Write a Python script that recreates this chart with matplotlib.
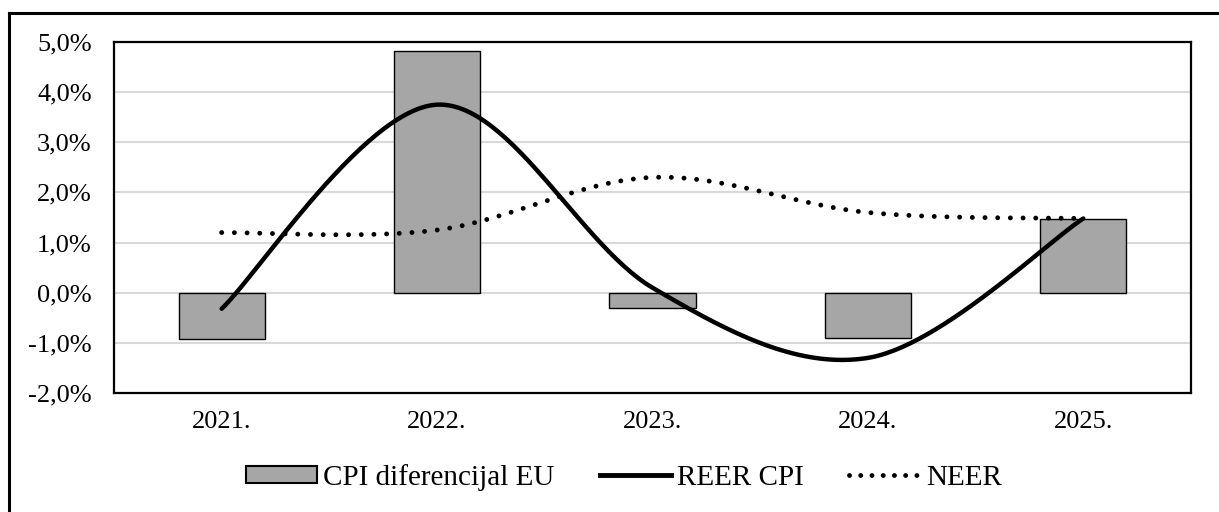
import numpy as np
import matplotlib.pyplot as plt
from matplotlib.lines import Line2D
from matplotlib.ticker import FuncFormatter

plt.rcParams['font.family'] = ['Liberation Serif', 'DejaVu Serif']

# Podaci
godine = ['2021.', '2022.', '2023.', '2024.', '2025.']
cpi_diferencijal = [-0.92, 4.83, -0.30, -0.90, 1.48]
reer_cpi = [-0.32, 3.75, 0.10, -1.30, 1.48]
neer = [1.20, 1.25, 2.30, 1.60, 1.48]


def glatka_linija(y, n=60):
    # Bezierova krivulja kroz tocke (kao "smoothed line" u Excelu)
    y = np.asarray(y, dtype=float)
    x = np.arange(len(y), dtype=float)
    px = np.concatenate([[x[0]], x, [x[-1]]])
    py = np.concatenate([[y[0]], y, [y[-1]]])
    xs, ys = [], []
    t = np.linspace(0, 1, n)
    for i in range(len(y) - 1):
        p0 = np.array([px[i + 1], py[i + 1]])
        p3 = np.array([px[i + 2], py[i + 2]])
        p1 = p0 + (np.array([px[i + 2], py[i + 2]]) - np.array([px[i], py[i]])) / 6
        p2 = p3 - (np.array([px[i + 3], py[i + 3]]) - np.array([px[i + 1], py[i + 1]])) / 6
        b = (np.outer((1 - t) ** 3, p0) + np.outer(3 * (1 - t) ** 2 * t, p1)
             + np.outer(3 * (1 - t) * t ** 2, p2) + np.outer(t ** 3, p3))
        xs.extend(b[:, 0])
        ys.extend(b[:, 1])
    return np.array(xs), np.array(ys)


fig = plt.figure(figsize=(12.19, 5.12), dpi=100)
ax = fig.add_axes([0.0935, 0.2324, 0.8835, 0.6856])

x = np.arange(len(godine))
ax.bar(x, cpi_diferencijal, width=0.40, color='#a6a6a6', edgecolor='black',
       linewidth=1.0, zorder=2)

rx, ry = glatka_linija(reer_cpi)
ax.plot(rx, ry, color='black', linewidth=3.2, solid_capstyle='round', zorder=3)

nx, ny = glatka_linija(neer)
ax.plot(nx, ny, color='black', linewidth=3.5, linestyle=(0, (0.01, 2.6)),
        dash_capstyle='round', zorder=3)

ax.set_xlim(-0.5, len(godine) - 0.5)
ax.set_ylim(-2, 5)
ax.set_xticks(x)
ax.set_xticklabels(godine)
ax.set_yticks(np.arange(-2, 5.1, 1))
ax.yaxis.set_major_formatter(FuncFormatter(lambda v, p: f'{v:.1f}%'.replace('.', ',')))
ax.tick_params(axis='both', length=0, labelsize=19)
ax.tick_params(axis='y', pad=16)
ax.tick_params(axis='x', pad=13)
ax.grid(axis='y', color='#d9d9d9', linewidth=1.5, zorder=0)
ax.set_axisbelow(True)
for s in ax.spines.values():
    s.set_linewidth(1.6)

ruke = [
    plt.Rectangle((0, 0), 1, 1, facecolor='#a6a6a6', edgecolor='black', linewidth=1.5),
    Line2D([], [], color='black', linewidth=3.5),
    Line2D([], [], color='black', linewidth=3.5, linestyle=(0, (0.01, 2.3)), dash_capstyle='round'),
]
fig.legend(ruke, ['CPI diferencijal EU', 'REER CPI', 'NEER'], loc='center',
           bbox_to_anchor=(0.512, 0.068), ncol=3, frameon=False, fontsize=21,
           handlelength=2.45, handleheight=0.5, handletextpad=0.2, columnspacing=1.55)

# okvir slike (lijevo i gore)
fig.add_artist(Line2D([0.0075, 0.0075], [0, 0.975], color='black', linewidth=2.2,
                      transform=fig.transFigure))
fig.add_artist(Line2D([0.0075, 1], [0.975, 0.975], color='black', linewidth=2.2,
                      transform=fig.transFigure))

fig.savefig('out.png', dpi=100)
